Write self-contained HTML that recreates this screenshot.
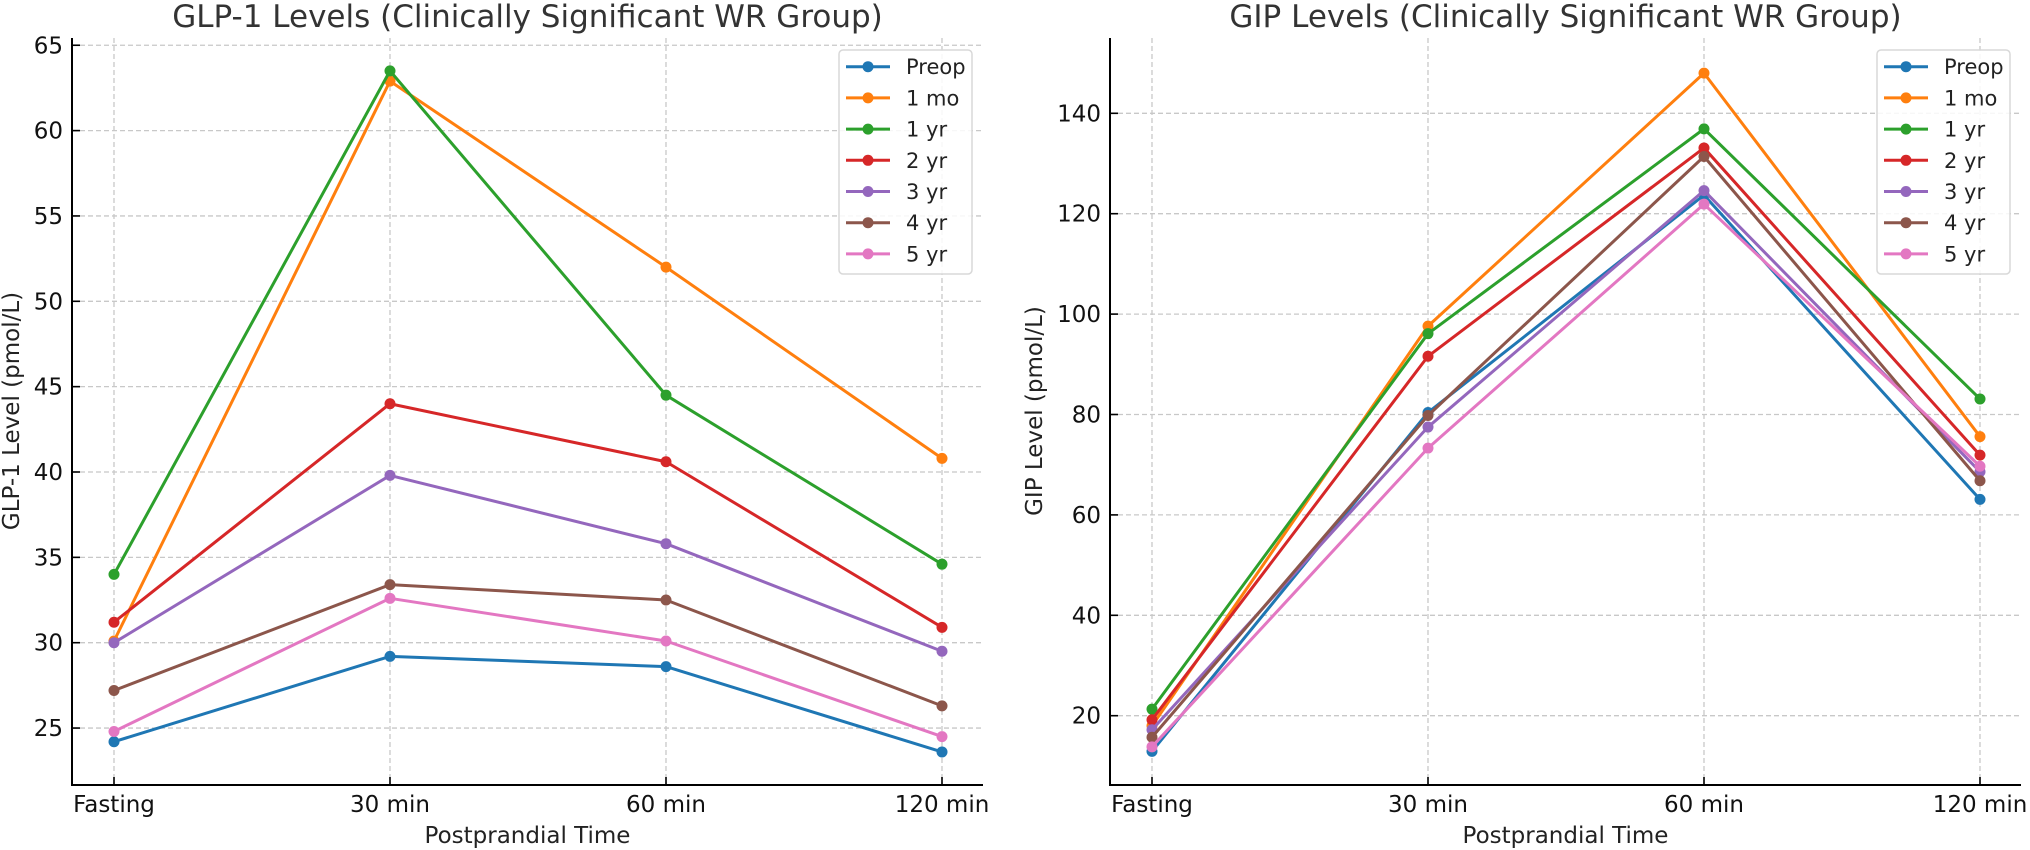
<!DOCTYPE html>
<html><head><meta charset="utf-8"><style>
html,body{margin:0;padding:0;background:#fff;}
svg{display:block;font-family:"DejaVu Sans","Liberation Sans",sans-serif;}
</style></head><body>
<svg id="chart" width="2030" height="850" viewBox="0 0 2030 850" xmlns="http://www.w3.org/2000/svg"></svg>
<script>
const categories = ["Fasting", "30 min", "60 min", "120 min"];
const seriesNames = ["Preop", "1 mo", "1 yr", "2 yr", "3 yr", "4 yr", "5 yr"];
const seriesColors = ["#1f77b4", "#ff7f0e", "#2ca02c", "#d62728", "#9467bd", "#8c564b", "#e377c2"];
const glpPreop = [24.2, 29.2, 28.6, 23.6];
const glp1mo = [30.1, 62.9, 52.0, 40.8];
const glp1yr = [34.0, 63.5, 44.5, 34.6];
const glp2yr = [31.2, 44.0, 40.6, 30.9];
const glp3yr = [30.0, 39.8, 35.8, 29.5];
const glp4yr = [27.2, 33.4, 32.5, 26.3];
const glp5yr = [24.8, 32.6, 30.1, 24.5];
const gipPreop = [12.9, 80.4, 123.7, 63.1];
const gip1mo = [18.0, 97.6, 148.0, 75.6];
const gip1yr = [21.3, 96.1, 136.9, 83.1];
const gip2yr = [19.2, 91.6, 133.1, 71.9];
const gip3yr = [17.2, 77.5, 124.6, 68.6];
const gip4yr = [15.7, 79.8, 131.4, 66.8];
const gip5yr = [13.8, 73.3, 121.9, 69.7];
const glpTicks = [25, 30, 35, 40, 45, 50, 55, 60, 65];
const gipTicks = [20, 40, 60, 80, 100, 120, 140];

const NS = "http://www.w3.org/2000/svg";
const svg = document.getElementById("chart");
function mk(tag, attrs, parent) {
  const e = document.createElementNS(NS, tag);
  for (const k in attrs) e.setAttribute(k, attrs[k]);
  (parent || svg).appendChild(e);
  return e;
}

function drawPanel(opt) {
  const g = mk("g", {});
  
  
  const L = opt.left, R = opt.right, T = 38, B = 785;
  const x = i => opt.x0 + i * 276;
  const y = v => opt.yRef - (v - opt.vRef) * opt.ppu;
  // grid
  categories.forEach((c, i) => {
    const l = mk("line", {x1: x(i), x2: x(i), y1: T, y2: B, stroke: "#c8c8c8", "stroke-width": 1.3, "stroke-dasharray": "5,3"}, g);
    
    
  });
  opt.ticks.forEach(t => {
    const l = mk("line", {x1: L, x2: R, y1: y(t), y2: y(t), stroke: "#c8c8c8", "stroke-width": 1.3, "stroke-dasharray": "5,3"}, g);
    
    
    const tk = mk("line", {x1: L, x2: L + 8, y1: y(t), y2: y(t), stroke: "#000", "stroke-width": 1.6}, g);
    
    
    const tx = mk("text", {x: L - 9, y: y(t) + 8, "text-anchor": "end", "font-size": 23, fill: "#111"}, g);
    tx.textContent = t;
    
    
  });
  categories.forEach((c, i) => {
    const tk = mk("line", {x1: x(i), x2: x(i), y1: B, y2: B - 8, stroke: "#000", "stroke-width": 1.6}, g);
    
    
    const tx = mk("text", {x: x(i), y: 812, "text-anchor": "middle", "font-size": 23, fill: "#111"}, g);
    tx.textContent = c;
    
    
  });
  // spines
  const sp = mk("path", {d: `M${L},${T} L${L},${B} L${R},${B}`, fill: "none", stroke: "#000", "stroke-width": 2}, g);
  
  
  // series
  opt.series.forEach((vals, s) => {
    const sg = mk("g", {}, g);
    
    
    const pts = vals.map((v, i) => x(i) + "," + y(v)).join(" ");
    const pl = mk("polyline", {points: pts, fill: "none", stroke: seriesColors[s], "stroke-width": 3, "stroke-linejoin": "round"}, sg);
    
    
    vals.forEach((v, i) => {
      const c = mk("circle", {cx: x(i), cy: y(v), r: 5.5, fill: seriesColors[s]}, sg);
      
      
    });
  });
  // title
  const ti = mk("text", {x: (L + R) / 2, y: 27, "text-anchor": "middle", "font-size": 31, fill: "#333"}, g);
  ti.textContent = opt.title;
  
  
  const xl = mk("text", {x: (L + R) / 2, y: 843, "text-anchor": "middle", "font-size": 23, fill: "#222"}, g);
  xl.textContent = "Postprandial Time";
  
  
  const yl = mk("text", {x: 0, y: 0, "text-anchor": "middle", "font-size": 23, fill: "#222", transform: `translate(${opt.ylx},411) rotate(-90)`}, g);
  yl.textContent = opt.ylabel;
  
  
  // legend
  const lg = mk("g", {}, g);
  
  
  const lx = R - 144;
  const bx = mk("rect", {x: lx, y: 50, width: 133, height: 224, rx: 4, fill: "#fff", "fill-opacity": 0.85, stroke: "#d8d8d8", "stroke-width": 1.5}, lg);
  
  
  seriesNames.forEach((n, s) => {
    const ey = 66.7 + s * 31.2;
    const eg = mk("g", {}, lg);
    
    
    mk("line", {x1: lx + 7, x2: lx + 51, y1: ey, y2: ey, stroke: seriesColors[s], "stroke-width": 3}, eg);
    mk("circle", {cx: lx + 29, cy: ey, r: 5.5, fill: seriesColors[s]}, eg);
    const t = mk("text", {x: lx + 67, y: ey + 7.5, "font-size": 21, fill: "#222"}, eg);
    t.textContent = n;
  });
}

drawPanel({name: "glp1-panel", left: 72, right: 983, x0: 114, yRef: 642.7, vRef: 30, ppu: 17.07,
  ticks: glpTicks, series: [glpPreop, glp1mo, glp1yr, glp2yr, glp3yr, glp4yr, glp5yr],
  title: "GLP-1 Levels (Clinically Significant WR Group)", ylabel: "GLP-1 Level (pmol/L)", ylx: 19});
drawPanel({name: "gip-panel", left: 1110, right: 2021, x0: 1152, yRef: 715.7, vRef: 20, ppu: 5.02,
  ticks: gipTicks, series: [gipPreop, gip1mo, gip1yr, gip2yr, gip3yr, gip4yr, gip5yr],
  title: "GIP Levels (Clinically Significant WR Group)", ylabel: "GIP Level (pmol/L)", ylx: 1042});
</script>
</body></html>
